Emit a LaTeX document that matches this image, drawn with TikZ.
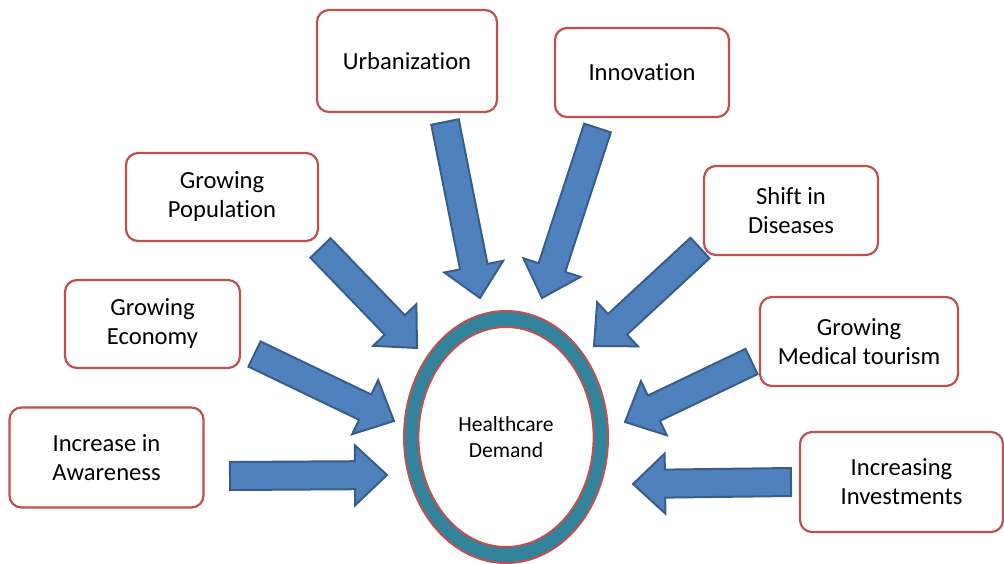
\documentclass[tikz,border=0pt]{standalone}
\usepackage{fontspec}
\setmainfont{Carlito}[Ligatures=NoCommon]
\usetikzlibrary{calc}
\definecolor{boxred}{HTML}{C0504D}
\definecolor{arrowblue}{HTML}{4F81BD}
\definecolor{arrowline}{HTML}{385D8A}
\definecolor{ringteal}{HTML}{31849B}
\tikzset{
  factor/.style={draw=boxred, line width=1.1pt, fill=white, rounded corners=6pt,
    align=center, inner sep=0pt, font=\fontsize{12.3}{14.5}\selectfont},
  blockarrow/.style={draw=arrowline, line width=1pt, fill=arrowblue, line join=miter},
}
% block arrow from tail #1 to tip #2
\newcommand{\pusharrow}[2]{%
  \coordinate (hb) at ($(#2)!16pt!(#1)$);
  \draw[blockarrow] ($(#1)!7pt!90:(#2)$) -- ($(hb)!7pt!90:(#2)$) -- ($(hb)!15pt!90:(#2)$)
    -- (#2) -- ($(hb)!15pt!-90:(#2)$) -- ($(hb)!7pt!-90:(#2)$) -- ($(#1)!7pt!-90:(#2)$) -- cycle;
}

\begin{document}
\begin{tikzpicture}[x=0.5pt, y=-0.5pt]
\useasboundingbox (0,0) rectangle (1004,563);

% the ring
\coordinate (ring) at (506,437);
\filldraw[draw=boxred, fill=ringteal, line width=1pt] (ring) ellipse [x radius=51pt, y radius=63pt];
\filldraw[draw=boxred, fill=white, line width=1pt] (ring) ellipse [x radius=43.8pt, y radius=55pt];
\node[align=center, font=\fontsize{10.8}{13}\selectfont] (demand) at (ring) {Healthcare\\Demand};

% factors
\node[factor, minimum width=90pt, minimum height=51pt] (urban) at (407,61) {Urbanization};
\node[factor, minimum width=87pt, minimum height=44.5pt] (innov) at (642,72.5) {Innovation};
\node[factor, minimum width=96pt, minimum height=44pt] (popul) at (222,197) {Growing\\Population};
\node[factor, minimum width=87pt, minimum height=44.5pt] (shift) at (791,210.5) {Shift in\\Diseases};
\node[factor, minimum width=87.5pt, minimum height=44pt] (econ) at (152.5,324) {Growing\\Economy};
\node[factor, minimum width=99pt, minimum height=44.5pt] (medic) at (859,341.5) {Growing\\Medical tourism};
\node[factor, minimum width=97pt, minimum height=50pt] (aware) at (106.5,457.5) {Increase in\\Awareness};
\node[factor, minimum width=101.5pt, minimum height=50pt] (invest) at (901.5,482) {Increasing\\Investments};

% arrow ends
\coordinate (aware-t) at (230,476);   \coordinate (aware-h) at (387,475);
\coordinate (econ-t) at (254.5,354);  \coordinate (econ-h) at (394,421);
\coordinate (popul-t) at (320.5,248); \coordinate (popul-h) at (417,348);
\coordinate (urban-t) at (445,122);   \coordinate (urban-h) at (480,298);
\coordinate (innov-t) at (597.5,128); \coordinate (innov-h) at (542,298);
\coordinate (shift-t) at (700,248);   \coordinate (shift-h) at (594,346);
\coordinate (medic-t) at (751.5,361.5); \coordinate (medic-h) at (625,422);
\coordinate (invest-t) at (791,482);  \coordinate (invest-h) at (633,484);

\foreach \f in {aware,econ,popul,urban,innov,shift,medic,invest}
  {\pusharrow{\f-t}{\f-h}}
\end{tikzpicture}
\end{document}
